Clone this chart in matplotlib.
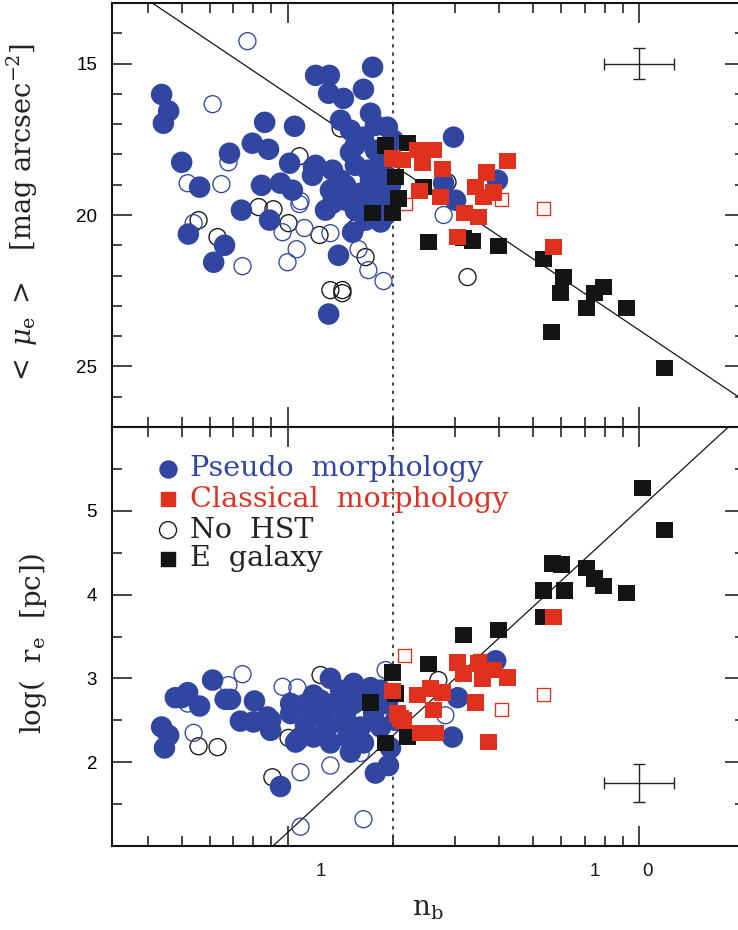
import numpy as np
import matplotlib
matplotlib.use('Agg')
import matplotlib.pyplot as plt
from matplotlib.ticker import FixedLocator, NullFormatter
from matplotlib.transforms import blended_transform_factory

plt.rcParams['mathtext.fontset'] = 'dejavuserif'

# ---------------- data (log10 n_b, value) ----------------
# top panel: <mu_e>
top_pseudo_logn = [-0.358, -0.338, -0.353, -0.301, -0.250, -0.165, -0.100, -0.054, -0.065, 0.020,
                   0.006, 0.074, 0.128, -0.131, -0.074, -0.020, 0.014, 0.122, 0.128, -0.051,
                   -0.282, -0.179, -0.210, 0.145, 0.185, 0.117, 0.080, 0.119, 0.117, 0.159,
                   0.216, 0.242, 0.151, 0.236, 0.284, 0.179, 0.216, 0.080, 0.071, 0.228,
                   0.265, 0.208, 0.256, 0.108, 0.265, 0.301, 0.472, 0.597, 0.444, 0.478,
                   0.193, 0.250, 0.165, 0.279, 0.222, 0.193, 0.236, 0.279,
                   0.179, 0.250, 0.193, 0.151, 0.279, 0.222, 0.165, 0.293]
top_pseudo_mu = [16.02, 16.57, 16.97, 18.26, 19.08, 17.96, 17.63, 17.83, 16.94, 17.07,
                 18.29, 18.42, 18.52, 19.84, 19.02, 18.95, 19.18, 19.18, 19.61, 20.17,
                 20.63, 21.00, 21.56, 21.33, 20.57, 23.27, 15.39, 15.39, 15.98, 16.15,
                 15.85, 15.12, 16.87, 16.64, 17.10, 17.93, 17.43, 18.36, 18.69, 18.52,
                 18.19, 19.28, 19.18, 19.84, 20.23, 17.53, 17.43, 18.85, 18.95, 19.51,
                 17.70, 17.86, 19.02, 18.69, 19.68, 19.84, 18.85, 19.51,
                 17.20, 17.04, 18.36, 18.85, 20.00, 20.17, 19.51, 19.02]

top_pseudo_nohst_logn = [-0.114, -0.213, -0.168, -0.284, -0.188, 0.034, 0.037, -0.267, -0.014,
                         0.048, 0.122, 0.026, 0.000, -0.128, 0.202, 0.230, 0.273, 0.444]
top_pseudo_nohst_mu = [14.26, 16.34, 18.26, 18.95, 18.98, 19.64, 19.54, 20.27, 20.57,
                       20.43, 20.60, 21.13, 21.56, 21.69, 21.13, 21.82, 22.18, 20.00]

top_nohst_logn = [0.034, 0.151, -0.082, -0.040, -0.253, -0.199, 0.003, 0.091, 0.193, 0.222,
                  0.122, 0.156, 0.156, 0.512, 0.455, 0.265]
top_nohst_mu = [18.06, 17.14, 19.74, 19.81, 20.17, 20.73, 20.27, 20.66, 20.43, 21.39,
                22.48, 22.48, 22.58, 22.05, 18.92, 17.47]

top_E_logn = [0.279, 0.341, 0.307, 0.316, 0.299, 0.242, 0.387, 0.401, 0.526, 0.501,
              0.600, 0.728, 0.785, 0.776, 0.873, 0.899, 0.850, 0.964, 0.751, 1.072]
top_E_mu = [17.70, 17.63, 18.75, 19.45, 19.94, 19.94, 19.08, 20.90, 20.86, 20.76,
            21.03, 21.46, 22.05, 22.58, 22.58, 22.38, 23.08, 23.08, 23.87, 25.06]

top_classical_logn = [0.299, 0.327, 0.370, 0.415, 0.384, 0.441, 0.375, 0.435, 0.626, 0.566,
                      0.535, 0.557, 0.586, 0.503, 0.543, 0.484, 0.757]
top_classical_mu = [18.13, 18.19, 17.86, 17.86, 18.26, 18.49, 19.21, 19.41, 18.22, 18.59,
                    19.08, 19.41, 19.25, 19.94, 20.07, 20.73, 21.06]

top_classical_nohst_logn = [0.336, 0.609, 0.728]
top_classical_nohst_mu = [19.64, 19.48, 19.78]

# bottom panel: log(r_e [pc])
bot_pseudo_logn = [-0.358, -0.338, -0.350, -0.319, -0.301, -0.284, -0.250, -0.213, -0.176, -0.162,
                   -0.094, -0.134, -0.097, -0.057, -0.048, 0.009, 0.009, 0.023, -0.020, 0.122,
                   0.188, 0.236, 0.074, -0.048, 0.074, 0.131, 0.188, 0.245, 0.284, 0.028,
                   0.074, 0.122, 0.171, 0.216, 0.265, 0.114, 0.159, 0.208, 0.250, 0.287,
                   0.592, 0.484, 0.469,
                   0.051, 0.094, 0.151, 0.208, 0.165, 0.108, 0.051, 0.265, 0.307, 0.293, 0.179]
bot_pseudo_re = [2.42, 2.32, 2.17, 2.77, 2.77, 2.83, 2.67, 2.98, 2.75, 2.75,
                 2.73, 2.49, 2.48, 2.54, 2.38, 2.70, 2.58, 2.24, 1.71, 3.00,
                 2.94, 2.89, 2.80, 2.50, 2.58, 2.70, 2.70, 2.58, 2.70, 2.26,
                 2.30, 2.23, 2.30, 2.23, 2.42, 2.42, 2.46, 2.42, 1.87, 1.96,
                 3.21, 2.77, 2.30,
                 2.68, 2.74, 2.86, 2.80, 2.56, 2.50, 2.44, 2.86, 2.50, 2.17, 2.12]

bot_pseudo_nohst_logn = [-0.128, -0.168, -0.014, 0.028, -0.284, -0.267, -0.182, 0.037, 0.037,
                         0.279, 0.122, 0.208, 0.216, 0.449]
bot_pseudo_nohst_re = [3.05, 2.92, 2.90, 2.89, 2.70, 2.35, 2.75, 1.88, 1.23,
                       3.10, 1.96, 2.11, 1.32, 2.56]

bot_nohst_logn = [-0.253, -0.199, -0.043, 0.003, 0.037, 0.094, 0.429]
bot_nohst_re = [2.19, 2.18, 1.82, 2.29, 2.32, 3.04, 2.98]

bot_E_logn = [1.010, 1.072, 0.754, 0.779, 0.850, 0.873, 0.899, 0.964, 0.728, 0.788,
              0.728, 0.501, 0.600, 0.401, 0.299, 0.307, 0.236, 0.279, 0.341]
bot_E_re = [5.27, 4.77, 4.37, 4.36, 4.32, 4.19, 4.10, 4.02, 4.05, 4.05,
            3.73, 3.52, 3.58, 3.17, 3.07, 2.82, 2.71, 2.23, 2.30]

bot_classical_logn = [0.299, 0.313, 0.330, 0.370, 0.407, 0.441, 0.415, 0.321, 0.378, 0.421,
                      0.484, 0.501, 0.543, 0.586, 0.626, 0.555, 0.535, 0.572, 0.757]
bot_classical_re = [2.85, 2.58, 2.50, 2.80, 2.88, 2.83, 2.62, 2.52, 2.35, 2.35,
                    3.19, 3.06, 3.18, 3.10, 3.01, 3.00, 2.71, 2.24, 3.73]

bot_classical_nohst_logn = [0.333, 0.546, 0.609, 0.728]
bot_classical_nohst_re = [3.27, 3.21, 2.63, 2.81]

# fit relations and typical errors
fit_mu = (16.0, 7.8)      # mu = a + b log n
fit_re = (1.16, 3.86)     # log re = a + b log n
err_logn = 0.10
err_mu = 0.5
err_re = 0.23
n_divide = 2.0

legend_labels = ['Pseudo  morphology', 'Classical  morphology', 'No  HST', 'E  galaxy']

# ---------------- style ----------------
BLUE = '#3146a1'
RED = '#e0311f'
BLACK = '#141414'
SERIF = 'DejaVu Serif'
SANS = 'Liberation Sans'

fig = plt.figure(figsize=(7.38, 9.30), dpi=100)
W, H = 738.0, 930.0
x0 = 111.7
x1 = 744.6
ax1 = fig.add_axes([x0 / W, (H - 427) / H, (x1 - x0) / W, (427 - 3) / H])
ax2 = fig.add_axes([x0 / W, (H - 846) / H, (x1 - x0) / W, (846 - 427) / H])

xlim = (10 ** -0.5, 10 ** 1.3)

S_FILL = 240
S_OPEN = 150
S_SQ = 140
S_OSQ = 85
LW_OPEN = 0.95


def p(v):
    return 10 ** np.asarray(v)


def draw(ax, pn_l, pn_v, pnh_l, pnh_v, nh_l, nh_v, e_l, e_v, c_l, c_v, cnh_l, cnh_v):
    ax.scatter(p(nh_l), nh_v, s=S_OPEN, facecolors='none', edgecolors=BLACK,
               linewidths=LW_OPEN, zorder=2)
    ax.scatter(p(pnh_l), pnh_v, s=S_OPEN, facecolors='none', edgecolors=BLUE,
               linewidths=LW_OPEN, zorder=2)
    ax.scatter(p(pn_l), pn_v, s=S_FILL, color=BLUE, edgecolors='none', zorder=3)
    ax.scatter(p(cnh_l), cnh_v, s=S_OSQ, marker='s', facecolors='none', edgecolors=RED,
               linewidths=LW_OPEN, zorder=3.5)
    ax.scatter(p(e_l), e_v, s=S_SQ, marker='s', color=BLACK, edgecolors='none', zorder=4)
    ax.scatter(p(c_l), c_v, s=S_SQ, marker='s', color=RED, edgecolors='none', zorder=5)


draw(ax1, top_pseudo_logn, top_pseudo_mu, top_pseudo_nohst_logn, top_pseudo_nohst_mu,
     top_nohst_logn, top_nohst_mu, top_E_logn, top_E_mu, top_classical_logn, top_classical_mu,
     top_classical_nohst_logn, top_classical_nohst_mu)
draw(ax2, bot_pseudo_logn, bot_pseudo_re, bot_pseudo_nohst_logn, bot_pseudo_nohst_re,
     bot_nohst_logn, bot_nohst_re, bot_E_logn, bot_E_re, bot_classical_logn, bot_classical_re,
     bot_classical_nohst_logn, bot_classical_nohst_re)

lg = np.linspace(-0.5, 1.3, 50)
ax1.plot(10 ** lg, fit_mu[0] + fit_mu[1] * lg, color=BLACK, lw=0.9, zorder=1)
ax2.plot(10 ** lg, fit_re[0] + fit_re[1] * lg, color=BLACK, lw=0.9, zorder=1)

for ax in (ax1, ax2):
    ax.axvline(n_divide, color=BLACK, lw=1.1, ls=(0, (2.2, 3.2)), zorder=1)

# error crosses
xe = [[10 - 10 ** (1 - err_logn)], [10 ** (1 + err_logn) - 10]]
ax1.errorbar([10], [15], xerr=xe, yerr=err_mu, fmt='none', ecolor='#222222',
             elinewidth=1.0, capsize=4.5, capthick=1.0, zorder=6)
ax2.errorbar([10], [1.75], xerr=xe, yerr=err_re, fmt='none', ecolor='#222222',
             elinewidth=1.0, capsize=4.5, capthick=1.0, zorder=6)

# axes setup
for ax in (ax1, ax2):
    ax.set_xscale('log')
    ax.set_xlim(*xlim)
    ax.xaxis.set_major_locator(FixedLocator([1, 10]))
    ax.xaxis.set_minor_locator(FixedLocator([0.4, 0.5, 0.6, 0.7, 0.8, 0.9,
                                             2, 3, 4, 5, 6, 7, 8, 9, 20]))
    ax.xaxis.set_major_formatter(NullFormatter())
    ax.xaxis.set_minor_formatter(NullFormatter())
    ax.tick_params(which='both', direction='in', top=True, right=True, width=1.1,
                   color=BLACK)
    ax.tick_params(which='major', length=14.5)
    ax.tick_params(which='minor', length=7.5)
    ax.tick_params(axis='y', which='major', labelsize=13.5, pad=10.5)
    for s in ax.spines.values():
        s.set_linewidth(1.5)
        s.set_color(BLACK)

ax1.set_ylim(27, 13)
ax1.yaxis.set_major_locator(FixedLocator([15, 20, 25]))
ax1.yaxis.set_minor_locator(FixedLocator([14, 16, 17, 18, 19, 21, 22, 23, 24, 26]))
ax1.set_yticklabels(['15', '20', '25'], fontfamily=SANS, fontsize=13.5)

ax2.set_ylim(1, 6)
ax2.yaxis.set_major_locator(FixedLocator([2, 3, 4, 5]))
ax2.yaxis.set_minor_locator(FixedLocator([1.5, 2.5, 3.5, 4.5, 5.5]))
ax2.set_yticklabels(['2', '3', '4', '5'], fontfamily=SANS, fontsize=13.5)

# x tick labels (as in the original, slightly offset)
tr = blended_transform_factory(ax2.transData, ax2.transAxes)
for xv, t in [(1.242, '1'), (7.46, '1'), (10.57, '0')]:
    ax2.text(xv, -0.062, t, transform=tr, ha='center', va='center',
             fontsize=13.5, fontfamily=SANS, color=BLACK)

# axis labels
fig.text(0.030, (H - 214) / H, r'$<\;\mu_{\rm e}\;>$   [mag arcsec$^{-2}$]', rotation=90,
         ha='center', va='center', fontsize=19.5, fontfamily=SERIF, color='#222222')
fig.text(0.045, (H - 644) / H, r'log(  r$_{\rm e}$  [pc])', rotation=90,
         ha='center', va='center', fontsize=20, fontfamily=SERIF, color='#222222')
fig.text(428 / W, (H - 908) / H, r'n$_{\rm b}$', ha='center', va='center',
         fontsize=20, fontfamily=SERIF, color='#222222')

# legend
leg_y = [0.900, 0.828, 0.754, 0.685]
leg_mx = 0.089
leg_tx = 0.124
ax2.scatter([leg_mx], [leg_y[0]], s=150, color=BLUE, transform=ax2.transAxes, zorder=7)
ax2.scatter([leg_mx], [leg_y[1]], s=88, marker='s', color=RED, transform=ax2.transAxes, zorder=7)
ax2.scatter([leg_mx], [leg_y[2]], s=150, facecolors='none', edgecolors=BLACK,
            linewidths=LW_OPEN, transform=ax2.transAxes, zorder=7)
ax2.scatter([leg_mx], [leg_y[3]], s=88, marker='s', color=BLACK, transform=ax2.transAxes, zorder=7)
for yv, lab, c in zip(leg_y, legend_labels, [BLUE, RED, '#222222', '#222222']):
    ax2.text(leg_tx, yv, lab, transform=ax2.transAxes, ha='left', va='center',
             fontsize=20.5, fontfamily=SERIF, color=c, zorder=7)

fig.savefig('out.png', dpi=100)
